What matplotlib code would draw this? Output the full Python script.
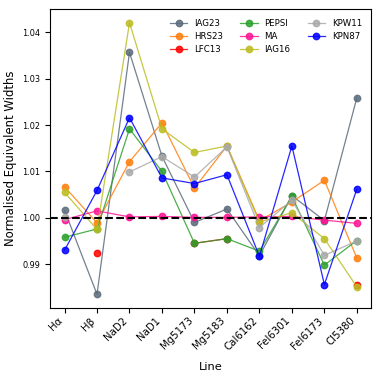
import numpy as np
import matplotlib.pyplot as plt

nan = np.nan

lines = ['Hα', 'Hβ', 'NaD2', 'NaD1', 'Mg5173', 'Mg5183', 'CaI6162', 'FeI6301', 'FeI6173', 'CI5380']

iag23 = [1.0016, 0.9835, 1.0357, 1.0133, 0.9990, 1.0019, 0.9918, 1.0048, 0.9994, 1.0259]
hrs23 = [1.0067, 0.9989, 1.0121, 1.0205, 1.0064, 1.0155, 0.9994, 1.0034, 1.0081, 0.9913]
lfc13 = [nan, 0.9925, nan, nan, 0.9945, 0.9955, nan, nan, nan, 0.9855]
pepsi = [0.9958, 0.9976, 1.0192, 1.0100, 0.9945, 0.9955, 0.9928, 1.0046, 0.9898, 0.9951]
ma = [0.9996, 1.0015, 1.0002, 1.0003, 1.0001, 1.0001, 1.0002, 1.0003, 0.9995, 0.9988]
iag16 = [1.0055, 0.9975, 1.0421, 1.0192, 1.0141, 1.0155, 0.9991, 1.0011, 0.9955, 0.9851]
kpw11 = [1.0002, nan, 1.0099, 1.0132, 1.0088, 1.0153, 0.9979, 1.0038, 0.9919, 0.9950]
kpn87 = [0.9930, 1.0059, 1.0216, 1.0086, 1.0074, 1.0093, 0.9917, 1.0155, 0.9856, 1.0062]

series = [('IAG23', iag23, '#5b6b7b'), ('HRS23', hrs23, '#ff7f0e'), ('LFC13', lfc13, 'red'),
          ('PEPSI', pepsi, '#2ca02c'), ('MA', ma, '#ff1493'), ('IAG16', iag16, '#bcbd22'),
          ('KPW11', kpw11, '#a9a9a9'), ('KPN87', kpn87, 'blue')]

fig = plt.figure(figsize=(3.81, 3.81), dpi=100)
ax = fig.add_axes([0.131, 0.192, 0.844, 0.784])

x = np.arange(len(lines))
for name, vals, col in series:
    ax.plot(x, vals, '-o', color=col, label=name, lw=0.9, ms=4.6, alpha=0.85)

ax.axhline(1.0, color='k', ls='--', lw=1.5, zorder=5)

ax.set_xticks(x)
ax.set_xticklabels(lines, rotation=45, ha='right', fontsize=7.3)
ax.tick_params(axis='y', labelsize=5.9)
ax.tick_params(axis='x', pad=2)
ax.set_yticks([0.99, 1.00, 1.01, 1.02, 1.03, 1.04])
ax.set_xlabel('Line', fontsize=8.2, labelpad=7)
ax.set_ylabel('Normalised Equivalent Widths', fontsize=8.4)

ax.legend(ncol=3, loc='upper right', frameon=False, fontsize=6.2,
          handlelength=2.0, columnspacing=2.0, labelspacing=0.5, borderaxespad=0.7)

fig.savefig('out.png', dpi=100)
